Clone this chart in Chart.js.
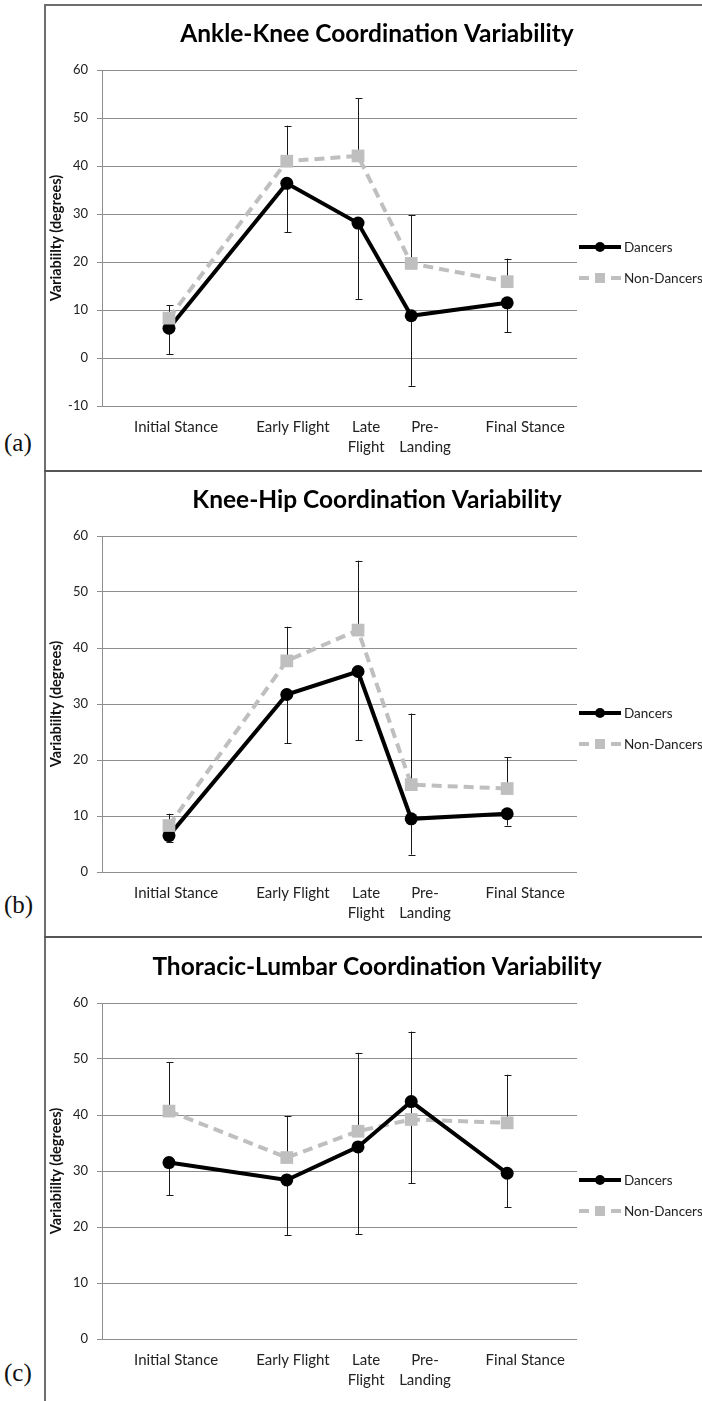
<!DOCTYPE html>
<html>
<head>
<meta charset="utf-8">
<script src="https://cdn.jsdelivr.net/npm/chart.js@4.4.0/dist/chart.umd.min.js"></script>
<style>
    body { margin: 0; background: #fff; width: 702px; height: 1401px; position: relative; overflow: hidden; }
    .frame { position: absolute; left: 44px; top: 4px; width: 670px; height: 1410px; border-left: 2px solid #6e6e6e; border-top: 2px solid #6e6e6e; }
    .sep { position: absolute; left: 44px; width: 670px; height: 0; border-top: 2px solid #555; }
    .panel { position: absolute; left: 46px; }
    .tag { position: absolute; left: 4px; font-family: "Liberation Serif", serif; font-size: 25px; line-height: 25px; color: #111; }
</style>
</head>
<body>
<div class="frame"></div>
<div class="sep" style="top:470px"></div>
<div class="sep" style="top:936px"></div>

<canvas class="panel" id="chartA" width="656" height="466" style="top:5px"></canvas>
<canvas class="panel" id="chartB" width="656" height="466" style="top:471px"></canvas>
<canvas class="panel" id="chartC" width="656" height="463" style="top:938px"></canvas>

<div class="tag" style="top:430px">(a)</div>
<div class="tag" style="top:892px">(b)</div>
<div class="tag" style="top:1360px">(c)</div>

<script>
// --- DADOS ---
const phaseLabels = ['Initial Stance', 'Early Flight', ['Late', 'Flight'], ['Pre-', 'Landing'], 'Final Stance'];
// posição (eixo x linear 0-100) dos pontos e dos rótulos
const phaseX = [14.1, 38.9, 53.9, 65.1, 85.3];
const labelPos = [15.6, 40.2, 55.6, 68.0, 89.1];
const yTicks = [-10, 0, 10, 20, 30, 40, 50, 60];

// Ankle-Knee
const akDancers = [6.2, 36.4, 28.1, 8.8, 11.5];
const akDancersSD = [5.4, 10.2, 15.8, 14.6, 6.1];
const akNon = [8.3, 41.0, 42.1, 19.7, 15.9];
const akNonSD = [2.7, 7.4, 12.0, 10.1, 4.8];

// Knee-Hip
const khDancers = [6.5, 31.7, 35.8, 9.5, 10.4];
const khDancersSD = [1.2, 8.7, 12.3, 6.4, 2.1];
const khNon = [8.3, 37.7, 43.2, 15.6, 14.9];
const khNonSD = [2.1, 6.1, 12.4, 12.7, 5.6];

// Thoracic-Lumbar
const tlDancers = [31.5, 28.4, 34.3, 42.4, 29.6];
const tlDancersSD = [5.8, 9.9, 15.6, 14.6, 6.1];
const tlNon = [40.7, 32.4, 37.1, 39.2, 38.6];
const tlNonSD = [8.7, 7.4, 14.0, 15.7, 8.6];

const FONT = 'Lato';
const GRID = '#8e8e8e';
const GRAY = '#bfbfbf';

// Título centrado no quadro inteiro (o plugin nativo ignora o padding direito)
const panelTitle = {
    id: 'panelTitle',
    afterDraw(chart, args, opts) {
        const { ctx } = chart;
        ctx.save();
        ctx.fillStyle = '#000';
        ctx.font = `bold 24.5px ${FONT}`;
        ctx.textAlign = 'center';
        ctx.textBaseline = 'middle';
        ctx.fillText(opts.text, chart.width / 2 + 3, 29);
        ctx.restore();
    }
};

// Barras de erro: dancers para baixo, non-dancers para cima
const errorBars = {
    id: 'errorBars',
    beforeDatasetsDraw(chart) {
        const { ctx, scales: { y } } = chart;
        ctx.save();
        ctx.strokeStyle = '#1a1a1a';
        ctx.lineWidth = 1;
        chart.data.datasets.forEach((ds, i) => {
            const meta = chart.getDatasetMeta(i);
            meta.data.forEach((pt, j) => {
                const end = y.getPixelForValue(ds.data[j].y + ds.errDir * ds.sd[j]);
                const px = Math.round(pt.x) + 0.5;
                ctx.beginPath();
                ctx.moveTo(px, pt.y);
                ctx.lineTo(px, end);
                ctx.moveTo(px - 3, Math.round(end) + 0.5);
                ctx.lineTo(px + 4, Math.round(end) + 0.5);
                ctx.stroke();
            });
        });
        ctx.restore();
    }
};

// Legenda à direita (linha + marcador, estilo Excel)
const sideLegend = {
    id: 'sideLegend',
    afterDraw(chart) {
        const { ctx, chartArea } = chart;
        const mid = (chartArea.top + chartArea.bottom) / 2;
        ctx.save();
        chart.data.datasets.forEach((ds, i) => {
            const y = mid + 9 + i * 31;
            const x0 = chartArea.right + 2;
            ctx.strokeStyle = ds.borderColor;
            ctx.lineWidth = 4;
            ctx.setLineDash(ds.borderDash || []);
            ctx.beginPath();
            ctx.moveTo(x0, y);
            ctx.lineTo(x0 + 42, y);
            ctx.stroke();
            ctx.setLineDash([]);
            ctx.fillStyle = ds.pointBackgroundColor;
            if (ds.pointStyle === 'rect') {
                ctx.fillRect(x0 + 16, y - 5, 10, 10);
            } else {
                ctx.beginPath();
                ctx.arc(x0 + 21, y, 5, 0, Math.PI * 2);
                ctx.fill();
            }
            ctx.fillStyle = '#222';
            ctx.font = `13.5px ${FONT}`;
            ctx.textBaseline = 'middle';
            ctx.fillText(ds.label, x0 + 45, y + 1);
        });
        ctx.restore();
    }
};

const toPoints = (vals) => vals.map((v, i) => ({ x: phaseX[i], y: v }));

const makeChart = (id, title, dancers, dancersSD, non, nonSD, yMin, dancersOnTop) => {
    new Chart(document.getElementById(id), {
        type: 'line',
        data: {
            datasets: [{
                label: 'Dancers',
                data: toPoints(dancers),
                sd: dancersSD,
                errDir: -1,
                order: dancersOnTop ? 0 : 1,
                borderColor: '#000',
                borderWidth: 4,
                pointStyle: 'circle',
                pointRadius: 6.5,
                pointBackgroundColor: '#000',
                pointBorderWidth: 0
            }, {
                label: 'Non-Dancers',
                data: toPoints(non),
                sd: nonSD,
                errDir: 1,
                order: dancersOnTop ? 1 : 0,
                borderColor: GRAY,
                borderWidth: 4,
                borderDash: [10, 6],
                pointStyle: 'rect',
                pointRadius: 9,
                pointBackgroundColor: GRAY,
                pointBorderWidth: 0
            }]
        },
        options: {
            responsive: false,
            animation: false,
            events: [],
            layout: { padding: { left: 0, right: 125, top: 65, bottom: 0 } },
            plugins: {
                legend: { display: false },
                tooltip: { enabled: false },
                title: { display: false },
                panelTitle: { text: title }
            },
            scales: {
                x: {
                    type: 'linear',
                    min: 0,
                    max: 100,
                    grid: { display: false, drawTicks: false },
                    border: { display: false },
                    afterBuildTicks: (s) => { s.ticks = labelPos.map(v => ({ value: v })); },
                    afterFit: (s) => { s.height = s.chart.height - 401; },
                    ticks: {
                        autoSkip: false,
                        maxRotation: 0,
                        padding: 11,
                        color: '#222',
                        font: { family: FONT, size: 15, lineHeight: 1.35 },
                        callback: (v, i) => phaseLabels[i]
                    }
                },
                y: {
                    min: yMin,
                    max: 60,
                    afterBuildTicks: (s) => { s.ticks = yTicks.filter(v => v >= yMin).map(v => ({ value: v })); },
                    afterFit: (s) => { s.width = 56; },
                    grid: { color: GRID, lineWidth: 1, tickLength: 5 },
                    border: { display: true, color: GRID, width: 1 },
                    ticks: {
                        padding: 9,
                        color: '#222',
                        font: { family: FONT, size: 13 }
                    },
                    title: {
                        display: true,
                        text: 'Variabiilty (degrees)',
                        color: '#111',
                        font: { family: FONT, size: 14.5, weight: 'bold' },
                        padding: { top: 2, bottom: 0 }
                    }
                }
            }
        },
        plugins: [errorBars, sideLegend, panelTitle]
    });
};

makeChart('chartA', 'Ankle-Knee Coordination Variability', akDancers, akDancersSD, akNon, akNonSD, -10, false);
makeChart('chartB', 'Knee-Hip Coordination Variability', khDancers, khDancersSD, khNon, khNonSD, 0, false);
makeChart('chartC', 'Thoracic-Lumbar Coordination Variability', tlDancers, tlDancersSD, tlNon, tlNonSD, 0, true);
</script>
</body>
</html>
